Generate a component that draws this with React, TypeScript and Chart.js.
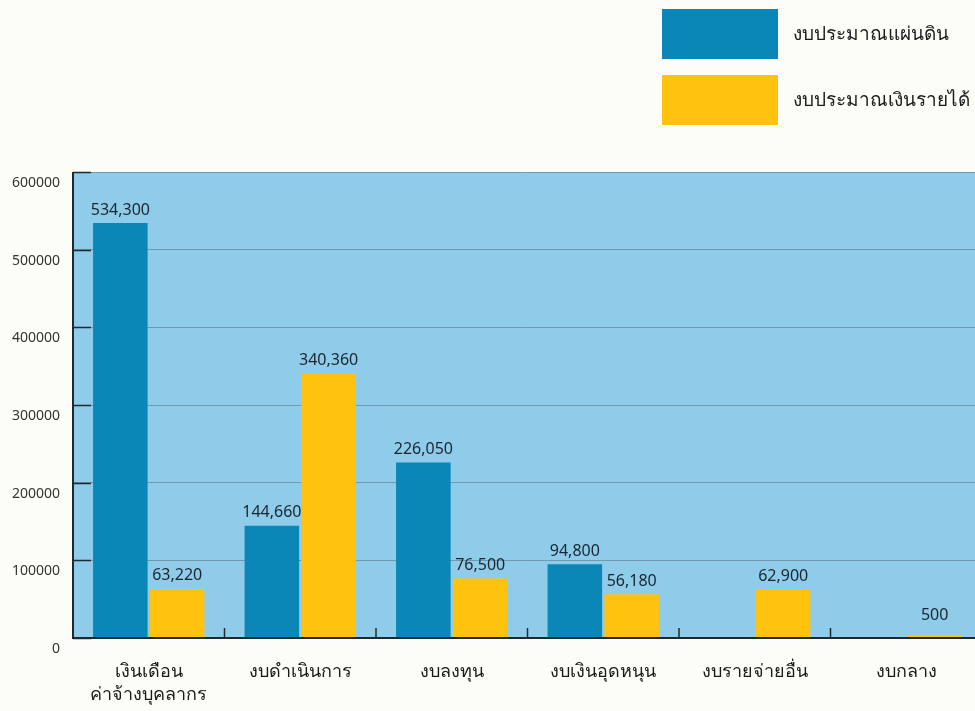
import React, { useEffect, useRef } from "react";
import { Chart, registerables } from "chart.js";

Chart.register(...registerables);

const categories: (string | string[])[] = [
  ["เงินเดือน", "ค่าจ้างบุคลากร"],
  "งบดำเนินการ",
  "งบลงทุน",
  "งบเงินอุดหนุน",
  "งบรายจ่ายอื่น",
  "งบกลาง",
];
const landBudget: (number | null)[] = [534300, 144660, 226050, 94800, null, null];
const incomeBudget: (number | null)[] = [63220, 340360, 76500, 56180, 62900, 500];
const seriesNames = ["งบประมาณแผ่นดิน", "งบประมาณเงินรายได้"];
const yTicks = [0, 100000, 200000, 300000, 400000, 500000, 600000];

const BLUE = "#0A87B6";
const YELLOW = "#FFC20F";
const PLOT_BG = "#8FCCEA";
const PAGE_BG = "#FDFDF8";
const FONT = '"Noto Sans", "DejaVu Sans", sans-serif';

const customPlugin = {
  id: "custom",
  beforeDraw(chart: any) {
    const { ctx, chartArea } = chart;
    ctx.save();
    ctx.fillStyle = PAGE_BG;
    ctx.fillRect(0, 0, chart.width, chart.height);
    ctx.fillStyle = PLOT_BG;
    ctx.fillRect(chartArea.left, chartArea.top, chartArea.right - chartArea.left, chartArea.bottom - chartArea.top);
    ctx.restore();
  },
  afterDatasetsDraw(chart: any) {
    const { ctx, chartArea, scales } = chart;
    const x = scales.x;
    const y = scales.y;
    ctx.save();
    // inner dark tick marks on y gridlines
    ctx.strokeStyle = "#1c2a30";
    ctx.lineWidth = 1.5;
    yTicks.forEach((v) => {
      const py = Math.round(y.getPixelForValue(v)) + 0.5;
      ctx.beginPath();
      ctx.moveTo(chartArea.left, py);
      ctx.lineTo(chartArea.left + 18, py);
      ctx.stroke();
    });
    // axis lines
    ctx.lineWidth = 2;
    ctx.beginPath();
    ctx.moveTo(chartArea.left, chartArea.top);
    ctx.lineTo(chartArea.left, chartArea.bottom);
    ctx.lineTo(chartArea.right, chartArea.bottom);
    ctx.stroke();
    // x category boundary ticks
    ctx.lineWidth = 1.5;
    for (let i = 1; i < categories.length; i++) {
      const px = (x.getPixelForValue(i - 1) + x.getPixelForValue(i)) / 2;
      ctx.beginPath();
      ctx.moveTo(px, chartArea.bottom);
      ctx.lineTo(px, chartArea.bottom - 10);
      ctx.stroke();
    }
    // value labels
    ctx.fillStyle = "#1a2530";
    ctx.font = `16px ${FONT}`;
    ctx.textAlign = "center";
    ctx.textBaseline = "bottom";
    chart.data.datasets.forEach((ds: any, di: number) => {
      const meta = chart.getDatasetMeta(di);
      meta.data.forEach((bar: any, i: number) => {
        const v = ds.data[i];
        if (v === null || v === undefined) return;
        const gap = v < 5000 ? 12 : 5;
        ctx.fillText(v.toLocaleString("en-US"), bar.x, bar.y - gap);
      });
    });
    // legend
    const colors = [BLUE, YELLOW];
    ctx.textAlign = "left";
    ctx.textBaseline = "middle";
    ctx.font = `19px ${FONT}`;
    seriesNames.forEach((name, i) => {
      const top = 9 + i * 66;
      ctx.fillStyle = colors[i];
      ctx.fillRect(662, top, 116, 50);
      ctx.fillStyle = "#1a1a1a";
      ctx.fillText(name, 793, top + 26);
    });
    ctx.restore();
  },
};

export default function App() {
  const ref = useRef<HTMLCanvasElement>(null);
  useEffect(() => {
    if (!ref.current) return;
    const chart = new Chart(ref.current, {
      type: "bar",
      data: {
        labels: categories,
        datasets: [
          { label: seriesNames[0], data: landBudget, backgroundColor: BLUE, categoryPercentage: 0.75, barPercentage: 0.96 },
          { label: seriesNames[1], data: incomeBudget, backgroundColor: YELLOW, categoryPercentage: 0.75, barPercentage: 0.96, minBarLength: 3 },
        ],
      },
      options: {
        responsive: false,
        animation: false,
        layout: { padding: { top: 172, right: 8, left: 0, bottom: 0 } },
        plugins: { legend: { display: false }, tooltip: { enabled: false } },
        scales: {
          x: {
            grid: { display: false },
            border: { display: false },
            ticks: { color: "#1a1a1a", font: { size: 18, family: FONT, lineHeight: 1.3 }, padding: 14, maxRotation: 0, autoSkip: false },
            afterFit(scale: any) { scale.height = 73; },
          },
          y: {
            min: 0,
            max: 600000,
            afterBuildTicks(scale: any) { scale.ticks = yTicks.map((v) => ({ value: v })); },
            grid: { color: "rgba(90,110,120,0.55)", lineWidth: 1, drawTicks: false },
            border: { display: false },
            ticks: { color: "#333", font: { size: 14, family: FONT }, padding: 13, labelOffset: 11, callback: (v: any) => String(v) },
            afterFit(scale: any) { scale.width = 73; },
          },
        },
      },
      plugins: [customPlugin],
    });
    return () => chart.destroy();
  }, []);
  return (
    <div style={{ position: "absolute", left: 0, top: 0, width: 975, height: 711, overflow: "hidden", background: PAGE_BG }}>
      <canvas ref={ref} width={990} height={711} style={{ width: 990, height: 711, display: "block" }} />
    </div>
  );
}
